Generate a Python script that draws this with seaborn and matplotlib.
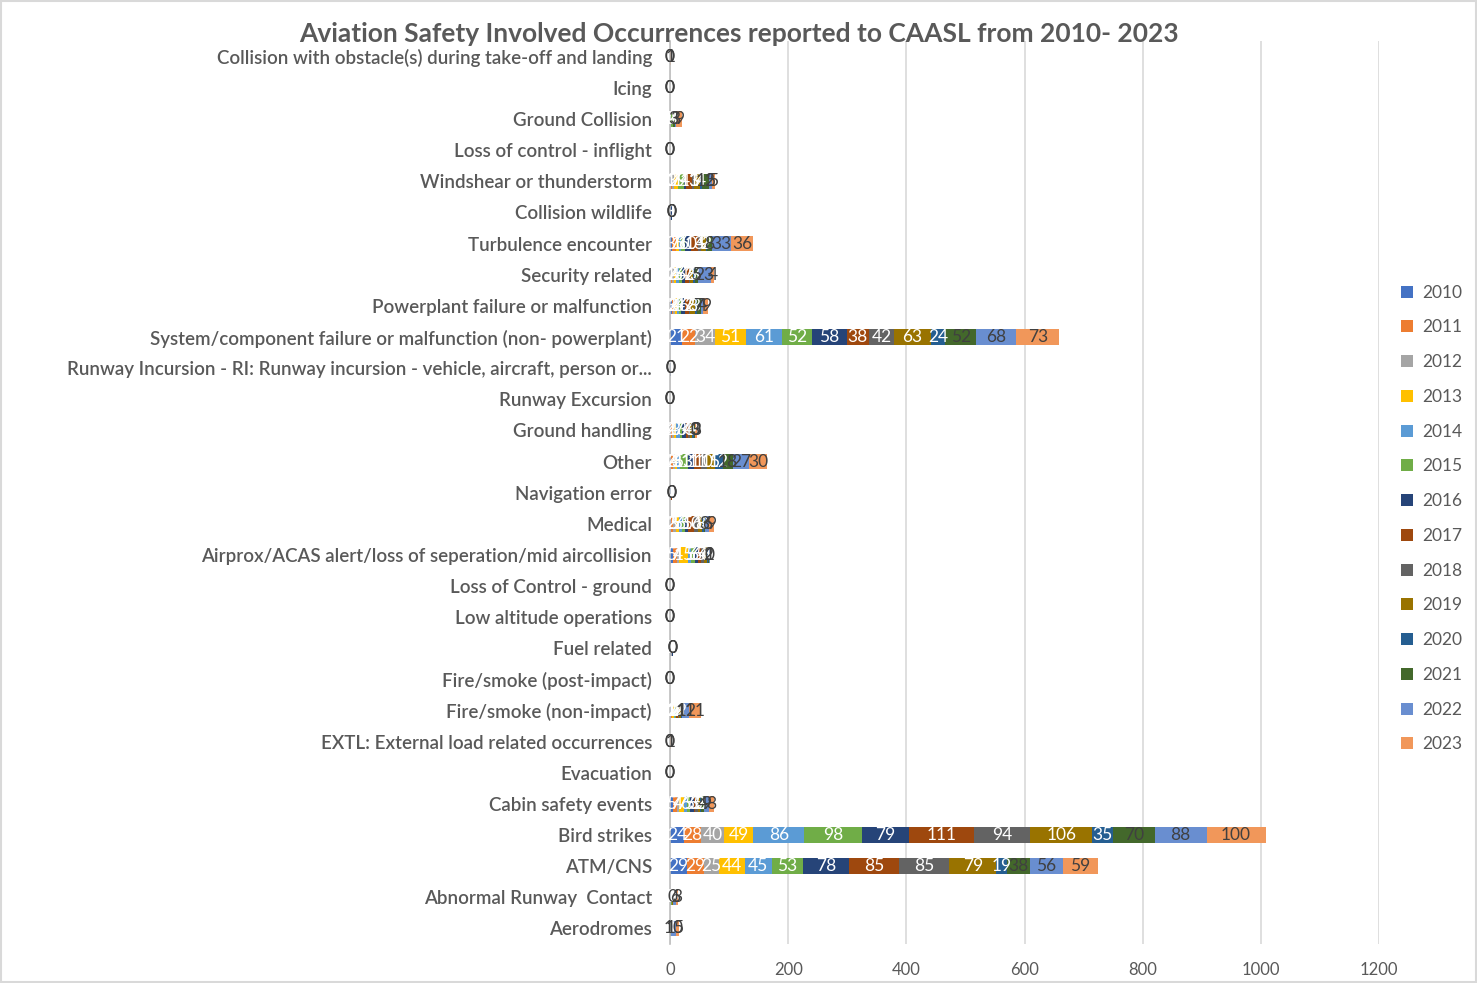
import numpy as np
import pandas as pd
import matplotlib
matplotlib.use("Agg")
import matplotlib.pyplot as plt
import seaborn as sns
from matplotlib.patches import Patch, Rectangle

categories = [
    "Collision with obstacle(s) during take-off and landing",
    "Icing",
    "Ground Collision",
    "Loss of control - inflight",
    "Windshear or thunderstorm",
    "Collision wildlife",
    "Turbulence encounter",
    "Security related",
    "Powerplant failure or malfunction",
    "System/component failure or malfunction (non- powerplant)",
    "Runway Incursion - RI: Runway incursion - vehicle, aircraft, person or...",
    "Runway Excursion",
    "Ground handling",
    "Other",
    "Navigation error",
    "Medical",
    "Airprox/ACAS alert/loss of seperation/mid aircollision",
    "Loss of Control - ground",
    "Low altitude operations",
    "Fuel related",
    "Fire/smoke (post-impact)",
    "Fire/smoke (non-impact)",
    "EXTL: External load related occurrences",
    "Evacuation",
    "Cabin safety events",
    "Bird strikes",
    "ATM/CNS",
    "Abnormal Runway  Contact",
    "Aerodromes",
]

years = ["2010", "2011", "2012", "2013", "2014", "2015", "2016",
         "2017", "2018", "2019", "2020", "2021", "2022", "2023"]

collision_obstacle = [0, 0, 0, 0, 0, 0, 0, 0, 0, 0, 0, 0, 0, 1]
icing              = [0, 0, 0, 0, 0, 0, 0, 0, 0, 0, 0, 0, 0, 0]
ground_collision   = [0, 0, 0, 0, 2, 3, 0, 0, 0, 0, 0, 3, 3, 9]
loc_inflight       = [0, 0, 0, 0, 0, 0, 0, 0, 0, 0, 0, 0, 0, 0]
windshear          = [1, 3, 2, 7, 1, 9, 4, 11, 3, 9, 4, 12, 5, 5]
collision_wildlife = [0, 0, 0, 0, 0, 0, 3, 0, 0, 0, 0, 0, 0, 0]
turbulence         = [3, 7, 1, 5, 3, 6, 10, 13, 4, 9, 2, 8, 33, 36]
security           = [1, 2, 3, 4, 5, 6, 4, 7, 2, 5, 3, 5, 23, 4]
powerplant         = [3, 2, 3, 4, 3, 4, 6, 7, 2, 8, 3, 7, 4, 9]
system_component   = [21, 22, 34, 51, 61, 52, 58, 38, 42, 63, 24, 52, 68, 73]
runway_incursion   = [0, 0, 0, 0, 0, 0, 1, 0, 0, 0, 0, 0, 0, 0]
runway_excursion   = [0, 0, 0, 0, 0, 0, 0, 0, 0, 0, 0, 0, 0, 0]
ground_handling    = [2, 1, 4, 3, 7, 3, 7, 4, 3, 4, 2, 3, 0, 3]
other              = [2, 3, 4, 3, 5, 13, 11, 11, 10, 15, 12, 18, 27, 30]
navigation_error   = [1, 0, 0, 0, 0, 0, 0, 2, 0, 0, 0, 0, 0, 0]
medical            = [2, 3, 5, 5, 6, 5, 5, 10, 6, 8, 2, 3, 6, 9]
airprox            = [5, 7, 4, 15, 5, 6, 6, 5, 4, 6, 1, 2, 1, 0]
loc_ground         = [0, 0, 0, 0, 0, 0, 0, 0, 0, 0, 0, 0, 0, 0]
low_altitude       = [0, 0, 0, 0, 0, 0, 0, 0, 0, 0, 0, 0, 0, 0]
fuel_related       = [1, 0, 2, 0, 1, 0, 1, 0, 0, 0, 0, 0, 0, 0]
fire_post_impact   = [0, 0, 0, 0, 0, 0, 0, 0, 0, 0, 0, 0, 0, 0]
fire_non_impact    = [1, 2, 1, 2, 2, 2, 1, 2, 2, 3, 2, 1, 11, 21]
extl               = [0, 0, 0, 0, 0, 0, 0, 0, 0, 0, 0, 0, 0, 1]
evacuation         = [0, 0, 0, 0, 0, 0, 0, 0, 0, 0, 0, 0, 0, 0]
cabin_safety       = [5, 7, 4, 7, 6, 5, 6, 3, 5, 2, 3, 4, 9, 8]
bird_strikes       = [24, 28, 40, 49, 86, 98, 79, 111, 94, 106, 35, 70, 88, 100]
atm_cns            = [29, 29, 25, 44, 45, 53, 78, 85, 85, 79, 19, 38, 56, 59]
abnormal_rwy       = [1, 0, 1, 0, 0, 1, 0, 1, 0, 1, 0, 0, 6, 3]
aerodromes         = [0, 0, 0, 0, 0, 0, 0, 0, 0, 0, 0, 1, 10, 5]

rows = [collision_obstacle, icing, ground_collision, loc_inflight, windshear,
        collision_wildlife, turbulence, security, powerplant, system_component,
        runway_incursion, runway_excursion, ground_handling, other,
        navigation_error, medical, airprox, loc_ground, low_altitude,
        fuel_related, fire_post_impact, fire_non_impact, extl, evacuation,
        cabin_safety, bird_strikes, atm_cns, abnormal_rwy, aerodromes]

colors = ["#4472C4", "#ED7D31", "#A5A5A5", "#FFC000", "#5B9BD5", "#70AD47",
          "#264478", "#9E480E", "#636363", "#997300", "#255E91", "#43682B",
          "#698ED0", "#F1975A"]

x_ticks = [0, 200, 400, 600, 800, 1000, 1200]

# ------------------------------------------------------------------
sns.set_theme(style="white")
plt.rcParams["font.family"] = ["Lato", "DejaVu Sans"]

df = pd.DataFrame(rows, columns=years)
df.insert(0, "Category", categories)
cum = df[years].cumsum(axis=1)

fig = plt.figure(figsize=(14.77, 9.83), dpi=100)
ax = fig.add_axes([0.4536, 0.0397, 0.9337 - 0.4536, 0.958 - 0.0397])

# stacked bars: draw largest cumulative first, smaller on top
for k in range(len(years) - 1, -1, -1):
    d = pd.DataFrame({"Category": categories, "val": cum[years[k]].values})
    sns.barplot(data=d, x="val", y="Category", order=categories,
                color=colors[k], saturation=1, width=0.5, orient="h",
                ax=ax, linewidth=0, errorbar=None)

# data labels
for i in range(len(categories)):
    for k, yr in enumerate(years):
        v = df.loc[i, yr]
        c = cum.loc[i, yr] - v / 2.0
        tcol = "white" if k <= 10 else "#404040"
        ax.text(c, i, str(v), ha="center", va="center", fontsize=12.5,
                color=tcol, zorder=5)

ax.set_xlim(0, 1200)
ax.set_ylim(len(categories) - 0.5, -0.5)
ax.set_xticks(x_ticks)
ax.set_xticklabels([str(t) for t in x_ticks], fontsize=12, color="#595959")
ax.set_xlabel("")
ax.set_ylabel("")
ax.grid(axis="x", color="#d9d9d9", linewidth=1.2)
ax.set_axisbelow(True)
for s in ["top", "right", "bottom"]:
    ax.spines[s].set_visible(False)
ax.spines["left"].set_color("#bfbfbf")
ax.spines["left"].set_linewidth(1.2)

ax.tick_params(axis="y", which="major", length=0, pad=13,
               labelsize=13.5, labelcolor="#595959")
for lab in ax.get_yticklabels():
    lab.set_fontweight("semibold")
ax.set_yticks(np.arange(-0.5, len(categories), 1.0), minor=True)
ax.tick_params(axis="y", which="minor", length=6, color="#bfbfbf", width=1.2)
ax.tick_params(axis="x", length=0, pad=13)

fig.suptitle("Aviation Safety Involved Occurrences reported to CAASL from 2010- 2023",
             x=0.5, y=0.978, fontsize=19, fontweight="bold", color="#595959")

handles = [Patch(facecolor=colors[k], edgecolor="none", label=years[k])
           for k in range(len(years))]
fig.legend(handles=handles, loc="center left", bbox_to_anchor=(0.938, 0.4725),
           frameon=False, fontsize=12.5, labelcolor="#595959",
           handlelength=0.7, handleheight=0.7, handletextpad=0.5,
           labelspacing=1.08)

fig.patches.append(Rectangle((0.001, 0.001), 0.998, 0.998, transform=fig.transFigure,
                             fill=False, edgecolor="#d9d9d9", linewidth=1.5))

fig.savefig("out.png", dpi=100)
